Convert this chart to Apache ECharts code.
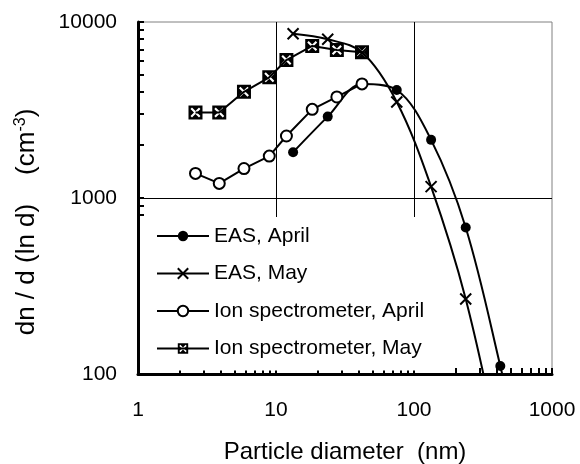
<!DOCTYPE html>
<html>
<head>
<meta charset="utf-8">
<script src="https://cdn.jsdelivr.net/npm/echarts@6/dist/echarts.min.js"></script>
<style>
    html, body { margin: 0; padding: 0; background: #fff; }
    #chart { width: 580px; height: 464px; }
</style>
</head>
<body>
<div id="chart"></div>
<script>
// particle diameters (nm) and concentrations dn/d(ln d) (cm-3)
const easDiam = [13.3, 23.7, 42.2, 75, 133, 237, 422, 750]
const easApril = [1820, 2900, 4450, 4110, 2140, 680, 111, 15]
const easMay = [8580, 7980, 6700, 3510, 1160, 267, 35]
const ionDiam = [2.61, 3.88, 5.86, 8.94, 11.9, 18.3, 27.6, 42.0]
const ionApril = [1380, 1210, 1470, 1730, 2250, 3190, 3750, 4450]
const ionMay = [3060, 3060, 4010, 4850, 6080, 7310, 6930, 6730]

const seriesNames = ['EAS, April', 'EAS, May', 'Ion spectrometer, April', 'Ion spectrometer, May']

const xTicks = [1, 2, 3, 4, 5, 6, 7, 8, 9, 10, 20, 30, 40, 50, 60, 70, 80, 90,
    100, 200, 300, 400, 500, 600, 700, 800, 900, 1000]
const yTicks = [100, 200, 300, 400, 500, 600, 700, 800, 900, 1000,
    2000, 3000, 4000, 5000, 6000, 7000, 8000, 9000, 10000]

const pairs = (xs, ys) => ys.map((y, i) => [xs[i], y])

const FONT = 'Liberation Sans, Arial, sans-serif'
const crossSymbol = 'path://M0,0L10,10M10,0L0,10'
// black square with a white X cut out of it
const boxCrossSymbol = 'path://M0,0L0,14L14,14L14,0Z ' +
    'M2,3.5L3.5,2L7,5.5L10.5,2L12,3.5L8.5,7L12,10.5L10.5,12L7,8.5L3.5,12L2,10.5L5.5,7Z'

const chart = echarts.init(document.getElementById('chart'), null, { renderer: 'canvas' })

const baseLine = { color: '#000', width: 2 }
const tickStyle = { inside: true, length: 6, lineStyle: { color: '#000', width: 2 } }

// minor ticks go on a bare copy of each axis so the grid lines stay at the decades
const tickAxis = (min, max, position, ticks) => ({
    type: 'log', logBase: 10, min, max, position,
    axisLine: { show: false },
    axisLabel: { show: false },
    splitLine: { show: false },
    axisTick: { ...tickStyle, customValues: ticks }
})

chart.setOption({
    animation: false,
    backgroundColor: '#fff',
    textStyle: { fontFamily: FONT },
    grid: {
        left: 138, right: 28, top: 22, bottom: 90,
        outerBoundsMode: 'none',
        show: true, borderColor: '#808080', borderWidth: 1, backgroundColor: 'transparent'
    },
    legend: {
        orient: 'vertical',
        left: 140,
        top: 217,
        padding: [7, 5, 10, 16],
        backgroundColor: '#fff',
        itemWidth: 52,
        itemHeight: 13,
        itemGap: 13.5,
        data: seriesNames,
        textStyle: { fontFamily: FONT, fontSize: 21, color: '#000', lineHeight: 24 }
    },
    xAxis: [
        {
            type: 'log',
            logBase: 10,
            min: 1,
            max: 1000,
            position: 'bottom',
            name: 'Particle diameter  (nm)',
            nameLocation: 'middle',
            nameGap: 66,
            nameTextStyle: { fontFamily: FONT, fontSize: 24, color: '#000' },
            axisLine: { lineStyle: { color: '#000', width: 3 } },
            axisTick: { show: false },
            axisLabel: {
                margin: 26, fontFamily: FONT, fontSize: 21, color: '#000',
                formatter: v => String(Math.round(v))
            },
            splitLine: { show: true, showMinLine: false, showMaxLine: false, lineStyle: { color: '#000', width: 1 } }
        },
        tickAxis(1, 1000, 'bottom', xTicks)
    ],
    yAxis: [
        {
            type: 'log',
            logBase: 10,
            min: 100,
            max: 10000,
            position: 'left',
            name: '{a|dn / d (ln d)    (cm}{sup|-3}{a|)}',
            nameLocation: 'middle',
            nameGap: 97,
            nameRotate: 90,
            nameTextStyle: {
                fontFamily: FONT, fontSize: 26, color: '#000', padding: [0, 48, 0, 0],
                rich: {
                    a: { fontFamily: FONT, fontSize: 26, color: '#000' },
                    sup: { fontFamily: FONT, fontSize: 16, color: '#000', verticalAlign: 'bottom', padding: [0, 0, 12, 0] }
                }
            },
            axisLine: { lineStyle: { color: '#000', width: 3 } },
            axisTick: { show: false },
            axisLabel: {
                margin: 21, fontFamily: FONT, fontSize: 21, color: '#000',
                formatter: v => String(Math.round(v))
            },
            splitLine: { show: true, showMinLine: false, showMaxLine: false, lineStyle: { color: '#000', width: 1 } }
        },
        tickAxis(100, 10000, 'left', yTicks)
    ],
    series: [
        {
            name: seriesNames[0],
            type: 'line',
            data: pairs(easDiam, easApril),
            smooth: 0.35,
            symbol: 'circle',
            symbolSize: 10,
            showAllSymbol: true,
            lineStyle: baseLine,
            itemStyle: { color: '#000', borderColor: '#000', borderWidth: 0 }
        },
        {
            name: seriesNames[1],
            type: 'line',
            data: pairs(easDiam, easMay),
            smooth: 0.35,
            symbol: crossSymbol,
            symbolSize: 11,
            showAllSymbol: true,
            lineStyle: baseLine,
            itemStyle: { color: 'rgba(0,0,0,0)', borderColor: '#000', borderWidth: 2 }
        },
        {
            name: seriesNames[2],
            type: 'line',
            data: pairs(ionDiam, ionApril),
            symbol: 'circle',
            symbolSize: 11,
            showAllSymbol: true,
            lineStyle: baseLine,
            itemStyle: { color: '#fff', borderColor: '#000', borderWidth: 2 }
        },
        {
            name: seriesNames[3],
            type: 'line',
            data: pairs(ionDiam, ionMay),
            symbol: boxCrossSymbol,
            symbolSize: 14,
            showAllSymbol: true,
            lineStyle: baseLine,
            itemStyle: { color: '#000', borderColor: '#000', borderWidth: 0 }
        }
    ]
})
</script>
</body>
</html>
